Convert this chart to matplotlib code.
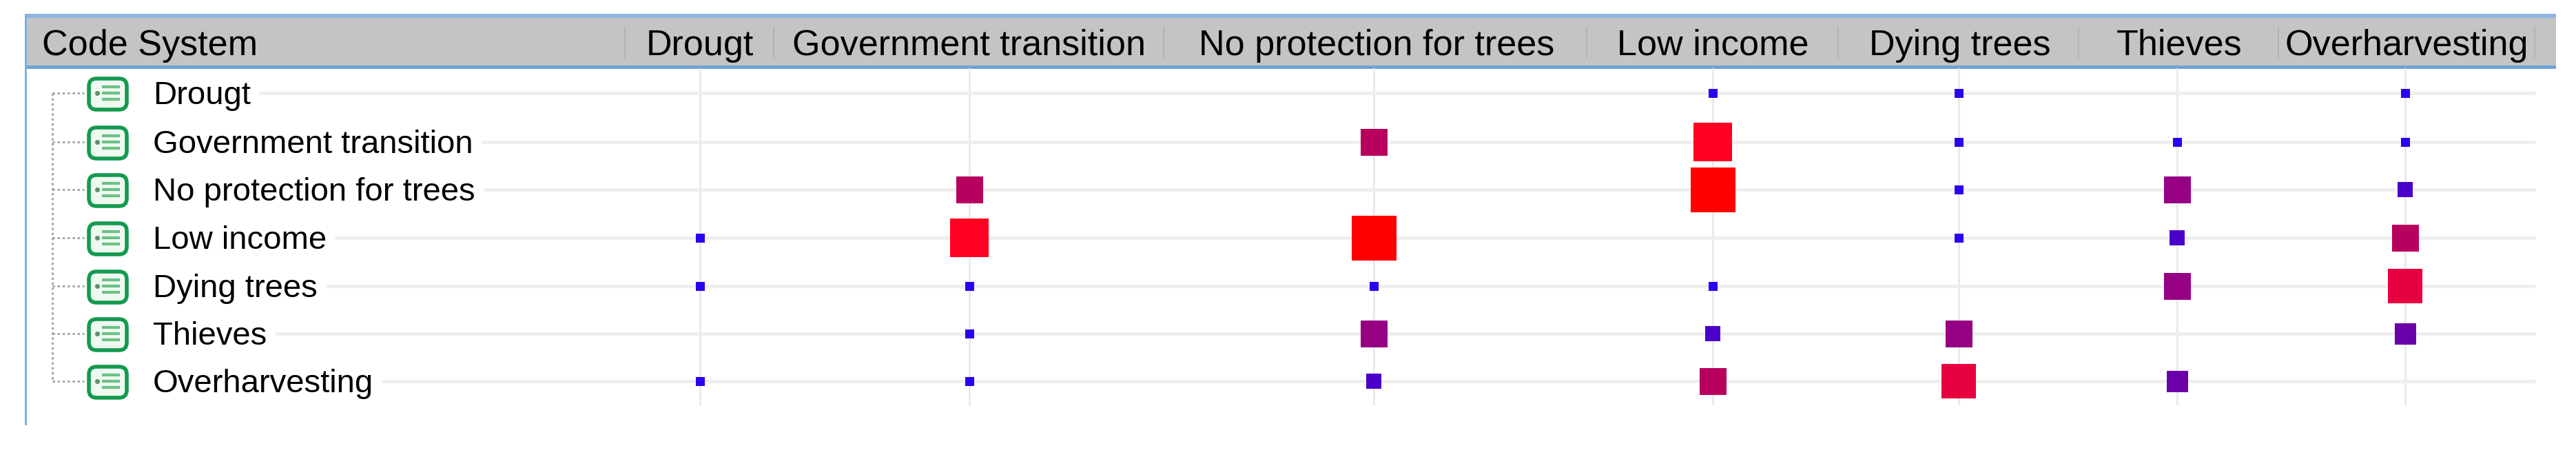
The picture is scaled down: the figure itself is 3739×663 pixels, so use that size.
import numpy as np
import matplotlib
matplotlib.use('Agg')
from matplotlib import pyplot as plt
from matplotlib.patches import FancyBboxPatch, Rectangle

codes = ['Drougt', 'Government transition', 'No protection for trees', 'Low income',
         'Dying trees', 'Thieves', 'Overharvesting']

# code co-occurrence level read off the marks, 0 = no mark
drougt = [0, 0, 0, 1, 1, 0, 1]
government = [0, 0, 5, 7, 1, 1, 1]
no_protection = [0, 5, 0, 8, 1, 4, 2]
low_income = [1, 7, 8, 0, 1, 2, 5]
dying_trees = [1, 1, 1, 1, 0, 4, 6]
thieves = [0, 1, 4, 2, 4, 0, 3]
overharvesting = [1, 1, 2, 5, 6, 3, 0]
matrix = np.array([drougt, government, no_protection, low_income, dying_trees, thieves, overharvesting])

# level -> side of the square in px, and colour
level_size = {1: 13, 2: 23, 3: 31, 4: 39, 5: 39, 6: 50, 7: 56, 8: 65}
level_color = {1: '#2a00f0', 2: '#4a00c8', 3: '#6a00a8', 4: '#960082', 5: '#b8005e',
               6: '#e60040', 7: '#ff0022', 8: '#ff0000'}

col_x = [1016, 1407, 1994, 2486, 2843, 3160, 3491]
head_x = [1016, 1407, 1998, 2486, 2845, 3163, 3493]
row_y = [135, 206, 275, 345, 415, 484, 553]
sep_x = [907, 1123, 1689, 2303, 2668, 3017, 3307, 3679]

plt.rcParams['font.family'] = ['Liberation Sans', 'DejaVu Sans']
fig = plt.figure(figsize=(37.39, 6.63), dpi=100)
ax = fig.add_axes([0, 0, 1, 1])
ax.set_xlim(0, 3739)
ax.set_ylim(663, 0)
ax.axis('off')

# header band
ax.add_patch(Rectangle((36, 20), 3674, 6, color='#8fb6e0', lw=0))
ax.add_patch(Rectangle((36, 26), 3674, 69, color='#c4c4c4', lw=0))
ax.add_patch(Rectangle((36, 95), 3674, 5, color='#6fa3d8', lw=0))
ax.add_patch(Rectangle((36, 20), 3, 597, color='#7fb0e0', lw=0))
for x in sep_x:
    ax.plot([x, x], [40, 84], color='#b0b0b0', lw=1.2)

ax.text(61, 80, 'Code System', fontsize=37.5, color='#000000', ha='left', va='baseline')
for x, name in zip(head_x, codes):
    ax.text(x, 80, name, fontsize=37.5, color='#000000', ha='center', va='baseline')

# grid and row labels
fig.canvas.draw()
renderer = fig.canvas.get_renderer()
for x in col_x:
    ax.plot([x, x], [100, 586], color='#e8e8ee', lw=2, zorder=1)
for y, name in zip(row_y, codes):
    t = ax.text(222, y + 16, name, fontsize=34, color='#000000', ha='left', va='baseline')
    end_x = t.get_window_extent(renderer).x1
    ax.plot([end_x + 12, 3680], [y, y], color='#eeeeee', lw=3.5, zorder=1, solid_capstyle='butt')

    # tree connector
    ax.plot([76, 122], [y, y], color='#a0a0a0', lw=2, ls=(0, (1.2, 1.4)))
    # code icon
    ax.add_patch(FancyBboxPatch((129, y - 21), 55, 45, boxstyle='round,pad=0,rounding_size=11',
                                fc='#eef9f0', ec='#149a50', lw=4, zorder=2))
    for dy in [-9, 0, 9]:
        ax.plot([148, 174], [y + dy, y + dy], color='#6cc088', lw=3, zorder=3, solid_capstyle='butt')
    ax.plot([141], [y], marker='o', ms=4, color='#5f8f70', zorder=3)
ax.plot([76, 76], [row_y[0], row_y[-1]], color='#a0a0a0', lw=2, ls=(0, (1.2, 1.4)))

# squares
for i, y in enumerate(row_y):
    for j, x in enumerate(col_x):
        v = matrix[i, j]
        if v == 0:
            continue
        side = level_size[v] * 72 / fig.dpi
        ax.scatter([x], [y], marker='s', s=side ** 2, color=level_color[v], linewidths=0, zorder=4)

fig.savefig('out.png', dpi=100, facecolor='white')
plt.close(fig)
